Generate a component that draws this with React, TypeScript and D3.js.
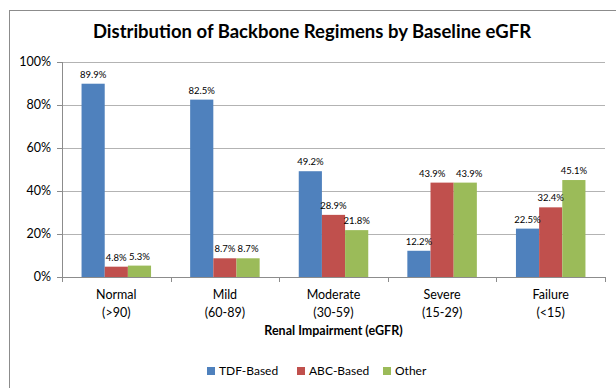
import React, { useRef, useEffect } from 'react';
import * as d3 from 'd3';

// Renal impairment categories (two-line labels)
const CATEGORIES = ['Normal', 'Mild', 'Moderate', 'Severe', 'Failure'];
const CATEGORY_RANGES = ['(>90)', '(60-89)', '(30-59)', '(15-29)', '(<15)'];

const SERIES = ['TDF-Based', 'ABC-Based', 'Other'];
const TDF_VALUES = [89.9, 82.5, 49.2, 12.2, 22.5];
const ABC_VALUES = [4.8, 8.7, 28.9, 43.9, 32.4];
const OTHER_VALUES = [5.3, 8.7, 21.8, 43.9, 45.1];

const Y_TICKS = [0, 20, 40, 60, 80, 100];

const COLORS = ['#4f81bd', '#c0504d', '#9bbb59'];

const WIDTH = 616;
const HEIGHT = 388;
const FONT = 'Lato, "Open Sans", "Liberation Sans", sans-serif';

const App: React.FC = () => {
  const ref = useRef<SVGSVGElement>(null);

  useEffect(() => {
    if (!ref.current) return;
    const svg = d3.select(ref.current);
    svg.selectAll('*').remove();

    const margin = { top: 62, right: 11, bottom: 111, left: 62 };
    const width = WIDTH - margin.left - margin.right;
    const height = HEIGHT - margin.top - margin.bottom;

    // Outer frame
    svg
      .append('rect')
      .attr('x', 9.5)
      .attr('y', 10.5)
      .attr('width', 640)
      .attr('height', 400)
      .attr('fill', '#fff')
      .attr('stroke', '#8c8c8c')
      .attr('stroke-width', 1);

    // Title
    svg
      .append('text')
      .attr('x', 312)
      .attr('y', 38)
      .attr('text-anchor', 'middle')
      .text('Distribution  of Backbone Regimens by Baseline eGFR')
      .style('font-size', '18.5px')
      .style('font-weight', 'bold')
      .style('fill', '#000')
      .style('font-family', FONT);

    const g = svg.append('g').attr('transform', `translate(${margin.left},${margin.top})`);

    const x0 = d3.scaleBand<string>().domain(CATEGORIES).range([0, width]).paddingInner(0.36).paddingOuter(0.18);
    const x1 = d3.scaleBand<string>().domain(SERIES).range([0, x0.bandwidth()]);
    const y = d3.scaleLinear().domain([0, 100]).range([height, 0]);

    const step = width / CATEGORIES.length;

    // Gridlines
    g.selectAll('.grid')
      .data(Y_TICKS.slice(1))
      .enter()
      .append('line')
      .attr('x1', 0)
      .attr('x2', width)
      .attr('y1', (d) => Math.round(y(d)) + 0.5)
      .attr('y2', (d) => Math.round(y(d)) + 0.5)
      .attr('stroke', '#b3b3b3')
      .attr('stroke-width', 1);

    // Y axis
    g.append('line')
      .attr('x1', 0.5)
      .attr('x2', 0.5)
      .attr('y1', 0)
      .attr('y2', height)
      .attr('stroke', '#8c8c8c');
    g.selectAll('.ytick')
      .data(Y_TICKS)
      .enter()
      .append('line')
      .attr('x1', -5)
      .attr('x2', 0)
      .attr('y1', (d) => Math.round(y(d)) + 0.5)
      .attr('y2', (d) => Math.round(y(d)) + 0.5)
      .attr('stroke', '#8c8c8c');
    g.selectAll('.ylabel')
      .data(Y_TICKS)
      .enter()
      .append('text')
      .attr('x', -11)
      .attr('y', (d) => y(d))
      .attr('dy', '0.35em')
      .attr('text-anchor', 'end')
      .text((d) => `${d}%`)
      .style('font-size', '12.5px')
      .style('fill', '#000')
      .style('font-family', FONT);

    // Bars
    const data = CATEGORIES.map((c, i) => ({
      cat: c,
      values: [TDF_VALUES[i], ABC_VALUES[i], OTHER_VALUES[i]],
    }));

    const groups = g
      .selectAll('.group')
      .data(data)
      .enter()
      .append('g')
      .attr('transform', (d) => `translate(${x0(d.cat)},0)`);

    groups
      .selectAll('rect')
      .data((d) => d.values.map((v, j) => ({ key: SERIES[j], v, j })))
      .enter()
      .append('rect')
      .attr('x', (d) => x1(d.key) as number)
      .attr('y', (d) => y(d.v))
      .attr('width', x1.bandwidth())
      .attr('height', (d) => height - y(d.v))
      .attr('fill', (d) => COLORS[d.j]);

    // Value labels; wide labels over bars of equal height get spread apart
    groups
      .selectAll('.val')
      .data((d) =>
        d.values.map((v, j) => {
          let dx = 0;
          const clash = v >= 10 && Math.abs(d.values[1] - d.values[2]) < 3;
          if (clash && j === 1) dx = -10;
          if (clash && j === 2) dx = 4;
          return { key: SERIES[j], v, j, dx };
        })
      )
      .enter()
      .append('text')
      .attr('x', (d) => (x1(d.key) as number) + x1.bandwidth() / 2 + d.dx)
      .attr('y', (d) => y(d.v) - 6)
      .attr('text-anchor', 'middle')
      .text((d) => `${d.v.toFixed(1)}%`)
      .style('font-size', '9.5px')
      .style('fill', '#000')
      .style('font-family', FONT);

    // X axis
    g.append('line')
      .attr('x1', 0)
      .attr('x2', width)
      .attr('y1', height + 0.5)
      .attr('y2', height + 0.5)
      .attr('stroke', '#8c8c8c');
    g.selectAll('.xtick')
      .data(d3.range(CATEGORIES.length + 1))
      .enter()
      .append('line')
      .attr('x1', (i) => Math.round(i * step) + 0.5)
      .attr('x2', (i) => Math.round(i * step) + 0.5)
      .attr('y1', height)
      .attr('y2', height + 5)
      .attr('stroke', '#8c8c8c');

    const xl = g
      .selectAll('.xlabel')
      .data(CATEGORIES)
      .enter()
      .append('text')
      .attr('text-anchor', 'middle')
      .style('font-size', '12.5px')
      .style('fill', '#000')
      .style('font-family', FONT);
    xl.append('tspan')
      .attr('x', (d) => (x0(d) as number) + x0.bandwidth() / 2)
      .attr('y', height + 22)
      .text((d) => d);
    xl.append('tspan')
      .attr('x', (d) => (x0(d) as number) + x0.bandwidth() / 2)
      .attr('y', height + 40)
      .text((d, i) => CATEGORY_RANGES[i]);

    // Axis title
    g.append('text')
      .attr('x', width / 2)
      .attr('y', height + 58)
      .attr('text-anchor', 'middle')
      .text('Renal Impairment (eGFR)')
      .style('font-size', '12.5px')
      .style('font-weight', 'bold')
      .style('fill', '#000')
      .style('font-family', FONT);

    // Legend
    const legendX = [207, 297, 383];
    SERIES.forEach((name, i) => {
      const lg = svg.append('g').attr('transform', `translate(${legendX[i]},367)`);
      lg.append('rect').attr('width', 8).attr('height', 8).attr('fill', COLORS[i]);
      lg.append('text')
        .attr('x', 12)
        .attr('y', 8)
        .text(name)
        .style('font-size', '12px')
        .style('fill', '#000')
        .style('font-family', FONT);
    });
  }, []);

  return (
    <svg
      ref={ref}
      width={WIDTH}
      height={HEIGHT}
      style={{ position: 'absolute', left: 0, top: 0, display: 'block' }}
    />
  );
};

export default App;
